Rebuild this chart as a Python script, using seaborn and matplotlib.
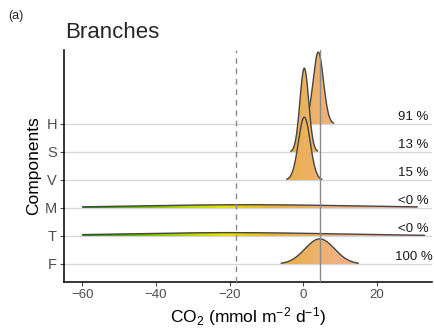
import numpy as np
import matplotlib
matplotlib.use("Agg")
import matplotlib.pyplot as plt
import seaborn as sns
from matplotlib.colors import LinearSegmentedColormap
from matplotlib.patches import Polygon

# ---- data ----
components = ["F", "T", "M", "V", "S", "H"]          # bottom -> top
centers    = [4.5, -20.0, -15.0, 0.3, 0.3, 4.1]     # mmol m-2 d-1
sds        = [4.0, 30.0, 31.0, 1.6, 1.2, 1.4]
lows       = [-6.0, -60.0, -60.0, -4.5, -3.4, -0.1]
highs      = [15.0, 33.0, 31.0, 5.1, 3.9, 8.3]
pct_labels = ["100 %", "<0 %", "<0 %", "15 %", "13 %", "91 %"]
dashed_line = -18.2
solid_line = 4.5
xticks = [-60, -40, -20, 0, 20]

# gradient fill stops (x value, colour)
grad_x = [-65, -60, -42, -22, -8, 0, 8, 25, 35]
grad_c = ["#1a980a", "#1e9c08", "#7cc400", "#e6e400", "#eab040",
          "#ebb15a", "#eeb27e", "#f2b0a0", "#f3b0a4"]

sns.set_theme(style="white")
plt.rcParams["font.family"] = ["Liberation Sans", "DejaVu Sans"]
plt.rcParams["mathtext.fontset"] = "custom"
plt.rcParams["mathtext.rm"] = "Liberation Sans"
plt.rcParams["mathtext.it"] = "Liberation Sans:italic"
plt.rcParams["axes.unicode_minus"] = True

fig = plt.figure(figsize=(4.35, 3.33), dpi=100)
ax = fig.add_axes([64/435, 51/333, 368/435, 232/333])

XMIN, XMAX = -65, 35
YMIN, YMAX = -0.643, 7.64
scale = 9.0

cmap = LinearSegmentedColormap.from_list(
    "grad", [((x - XMIN) / (XMAX - XMIN), c) for x, c in zip(grad_x, grad_c)])
grad_img = np.linspace(0, 1, 400).reshape(1, -1)

# horizontal gridlines
for i in range(len(components)):
    ax.axhline(i, color="#d6d6d6", lw=0.9, zorder=0)

order = list(range(len(components)))[::-1]  # draw top first
for z, i in enumerate(order):
    xs = np.linspace(lows[i], highs[i], 400)
    dens = np.exp(-0.5 * ((xs - centers[i]) / sds[i]) ** 2) / (sds[i] * np.sqrt(2 * np.pi))
    ys = i + scale * dens
    verts = np.vstack([np.column_stack([xs, ys]),
                       [[xs[-1], i], [xs[0], i]]])
    poly = Polygon(verts, closed=True, facecolor="none", edgecolor="none")
    ax.add_patch(poly)
    im = ax.imshow(grad_img, cmap=cmap, aspect="auto",
                   extent=(XMIN, XMAX, i, i + scale * dens.max() + 0.1),
                   origin="lower", zorder=2 + 2 * z)
    im.set_clip_path(poly)
    sns.lineplot(x=xs, y=ys, ax=ax, color="#454545", lw=1.0,
                 zorder=3 + 2 * z, sort=False)
    ax.text(30.0, i + 0.02, pct_labels[i], ha="center", va="bottom",
            fontsize=9.5, color="#1a1a1a", zorder=40)

ax.axvline(dashed_line, color="#8a8a8a", lw=1.0, ls=(0, (4, 3.5)), zorder=30)
ax.axvline(solid_line, color="#8a8a8a", lw=1.0, zorder=30)

ax.set_xlim(XMIN, XMAX)
ax.set_ylim(YMIN, YMAX)
ax.set_xticks(xticks)
ax.set_yticks(range(len(components)))
ax.set_yticklabels(components)
ax.tick_params(axis="x", labelsize=9.5, colors="#4d4d4d", length=3, width=0.8,
               direction="out", bottom=True, pad=2)
ax.tick_params(axis="y", labelsize=10.5, colors="#4d4d4d", length=3, width=0.8,
               direction="out", left=True, pad=2)
for t in ax.get_xticklines() + ax.get_yticklines():
    t.set_color("black")
for side in ["top", "right"]:
    ax.spines[side].set_visible(False)
for side in ["left", "bottom"]:
    ax.spines[side].set_color("black")
    ax.spines[side].set_linewidth(1.1)
ax.grid(False)

ax.set_xlabel("CO$_2$ (mmol m$^{-2}$ d$^{-1}$)", fontsize=12.5, color="black", labelpad=3)
ax.set_ylabel("Components", fontsize=12.5, color="black", labelpad=3)

fig.text(65/435, 1 - 33/333, "Branches", fontsize=16, ha="left", va="center")
fig.text(8/435, 1 - 16/333, "(a)", fontsize=9, ha="left", va="center")

fig.savefig("out.png", dpi=100)
